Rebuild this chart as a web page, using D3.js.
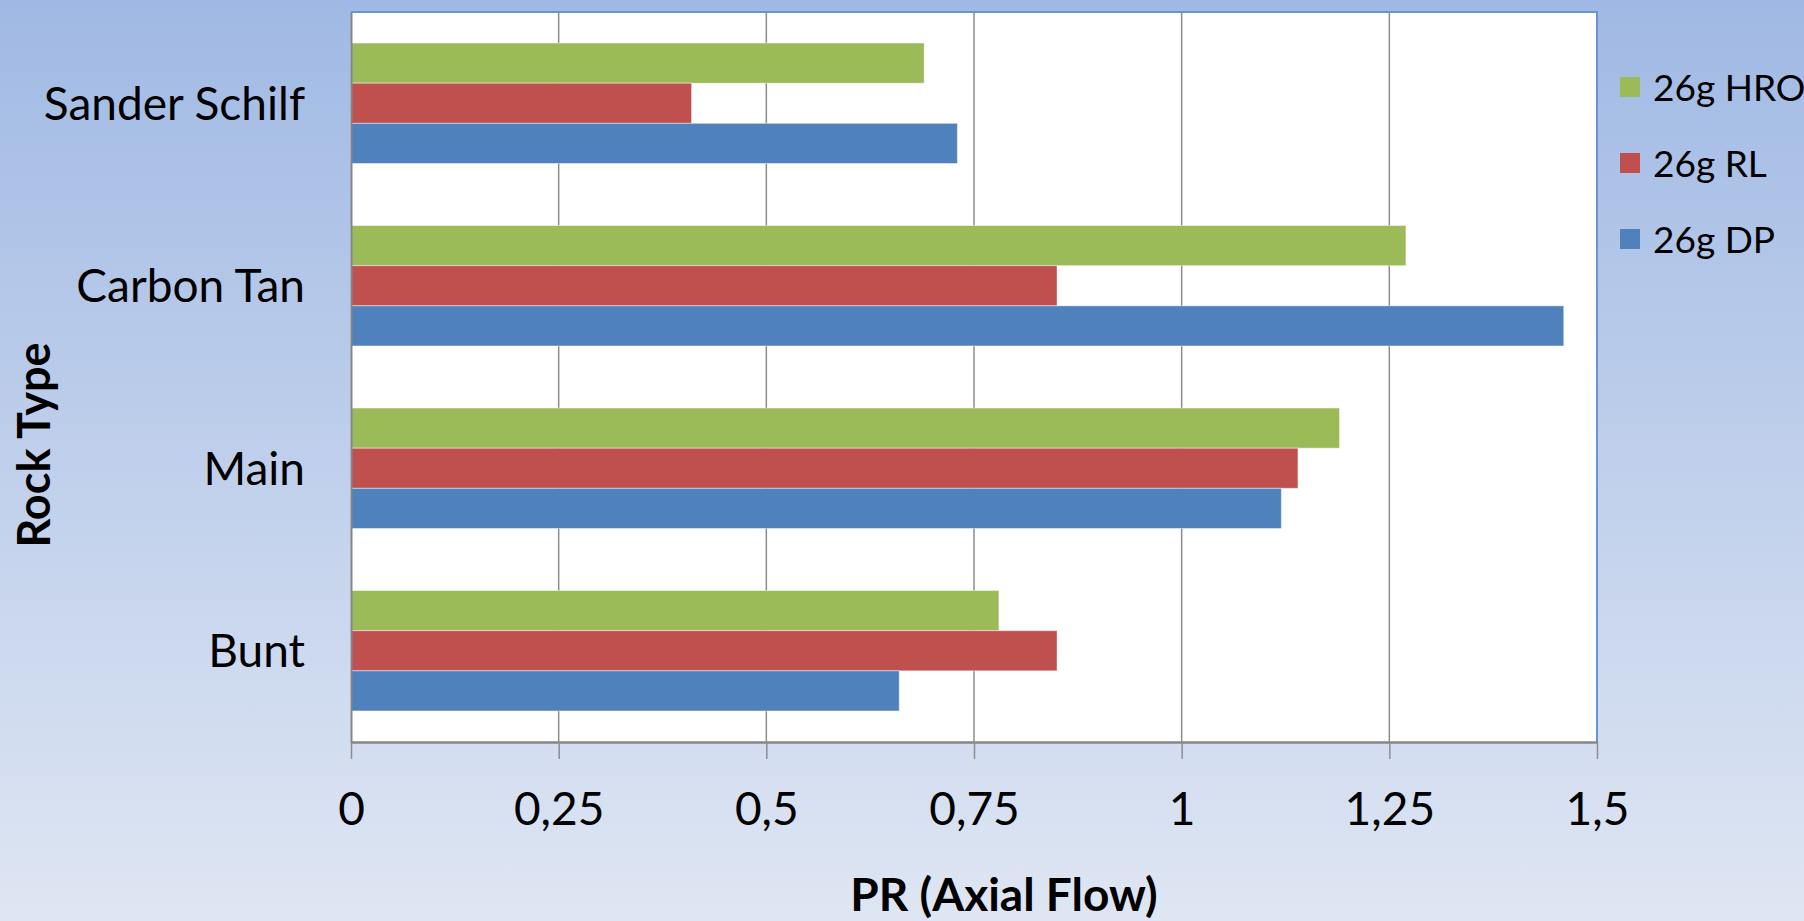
<!DOCTYPE html>
<html>
<head>
<meta charset="utf-8">
<script src="https://cdn.jsdelivr.net/npm/d3@7"></script>
<style>
  html, body { margin: 0; padding: 0; }
  body { width: 1804px; height: 921px; overflow: hidden; }
  text { font-family: Lato, "Open Sans", sans-serif; fill: #000; }
</style>
</head>
<body>
<div id="chart"></div>
<script>
// Data
const rockTypes = ["Sander Schilf", "Carbon Tan", "Main", "Bunt"];
const seriesNames = ["26g HRO", "26g RL", "26g DP"];
const seriesColors = ["#9bbb59", "#c0504d", "#4f81bd"];
const hroValues = [0.69, 1.27, 1.19, 0.78];
const rlValues = [0.41, 0.85, 1.14, 0.85];
const dpValues = [0.73, 1.46, 1.12, 0.66];
const xTicks = [0, 0.25, 0.5, 0.75, 1, 1.25, 1.5];
const xTickLabels = ["0", "0,25", "0,5", "0,75", "1", "1,25", "1,5"];

const seriesValues = [hroValues, rlValues, dpValues];

// Set up dimensions
const W = 1804, H = 921;
const plot = { left: 351, right: 1597, top: 12, bottom: 742 };

const svg = d3.select("#chart")
    .append("svg")
    .attr("width", W)
    .attr("height", H);

// Background gradient
const defs = svg.append("defs");
const grad = defs.append("linearGradient")
    .attr("id", "bg")
    .attr("x1", 0).attr("y1", 0).attr("x2", 0).attr("y2", 1);
grad.append("stop").attr("offset", "0%").attr("stop-color", "#a0b9e4");
grad.append("stop").attr("offset", "100%").attr("stop-color", "#dfe6f3");

svg.append("rect")
    .attr("width", W)
    .attr("height", H)
    .attr("fill", "url(#bg)");

// Scales
const xScale = d3.scaleLinear()
    .domain([0, 1.5])
    .range([plot.left, plot.right]);

const yScale = d3.scaleBand()
    .domain(rockTypes)
    .range([plot.top, plot.bottom])
    .paddingInner(0.34)
    .paddingOuter(0.17);

const ySub = d3.scaleBand()
    .domain(seriesNames)
    .range([0, yScale.bandwidth()]);

// Plot area
svg.append("rect")
    .attr("x", plot.left)
    .attr("y", plot.top)
    .attr("width", plot.right - plot.left)
    .attr("height", plot.bottom - plot.top)
    .attr("fill", "#fff");

// Grid lines
svg.append("g")
    .selectAll("line")
    .data(xTicks.slice(1, -1))
    .join("line")
    .attr("x1", d => xScale(d))
    .attr("x2", d => xScale(d))
    .attr("y1", plot.top)
    .attr("y2", plot.bottom)
    .attr("stroke", "#8c8c8c")
    .attr("stroke-width", 1.5);

// Bars
const rows = [];
rockTypes.forEach((cat, i) => {
    seriesNames.forEach((s, j) => {
        rows.push({ cat: cat, series: s, value: seriesValues[j][i], color: seriesColors[j] });
    });
});

svg.append("g")
    .selectAll("rect")
    .data(rows)
    .join("rect")
    .attr("x", xScale(0))
    .attr("y", d => yScale(d.cat) + ySub(d.series))
    .attr("width", d => xScale(d.value) - xScale(0))
    .attr("height", ySub.bandwidth())
    .attr("fill", d => d.color)
    .attr("stroke", "rgba(255,255,255,0.45)")
    .attr("stroke-width", 1);

// Top and right border of plot
svg.append("path")
    .attr("d", `M${plot.left},${plot.top}H${plot.right}V${plot.bottom}`)
    .attr("fill", "none")
    .attr("stroke", "#6a93cf")
    .attr("stroke-width", 2);

// X axis
const xAxis = svg.append("g")
    .attr("transform", `translate(0,${plot.bottom})`)
    .call(d3.axisBottom(xScale)
        .tickValues(xTicks)
        .tickFormat((d, i) => xTickLabels[i])
        .tickSize(17)
        .tickSizeOuter(0)
        .tickPadding(0));
xAxis.select(".domain").attr("stroke", "#868686").attr("stroke-width", 2.5);
xAxis.selectAll(".tick line").attr("stroke", "#8c8c8c").attr("stroke-width", 1.5);
xAxis.selectAll(".tick text")
    .attr("y", 83)
    .attr("dy", null)
    .style("font-family", "Lato, sans-serif")
    .style("font-size", "46px")
    .attr("fill", "#000");

// Y axis
const yAxis = svg.append("g")
    .attr("transform", `translate(${plot.left},0)`)
    .call(d3.axisLeft(yScale).tickSize(0).tickPadding(46));
yAxis.select(".domain").attr("stroke", "#868686").attr("stroke-width", 2);
yAxis.selectAll(".tick text")
    .attr("dy", "0.36em")
    .style("font-family", "Lato, sans-serif")
    .style("font-size", "46px")
    .attr("fill", "#000");

// Axis titles
svg.append("text")
    .attr("transform", `translate(50,445) rotate(-90)`)
    .attr("text-anchor", "middle")
    .style("font-size", "45px")
    .style("font-weight", "bold")
    .text("Rock Type");

svg.append("text")
    .attr("x", 1004)
    .attr("y", 911)
    .attr("text-anchor", "middle")
    .style("font-size", "46px")
    .style("font-weight", "bold")
    .text("PR (Axial Flow)");

// Legend
const legend = svg.append("g")
    .attr("transform", "translate(1620,87)");

const item = legend.selectAll("g")
    .data(seriesNames)
    .join("g")
    .attr("transform", (d, i) => `translate(0,${i * 76})`);

item.append("rect")
    .attr("x", 0)
    .attr("y", -10)
    .attr("width", 20)
    .attr("height", 20)
    .attr("fill", (d, i) => seriesColors[i]);

item.append("text")
    .attr("x", 33)
    .attr("y", 14)
    .style("font-size", "37px")
    .text(d => d);
</script>
</body>
</html>
